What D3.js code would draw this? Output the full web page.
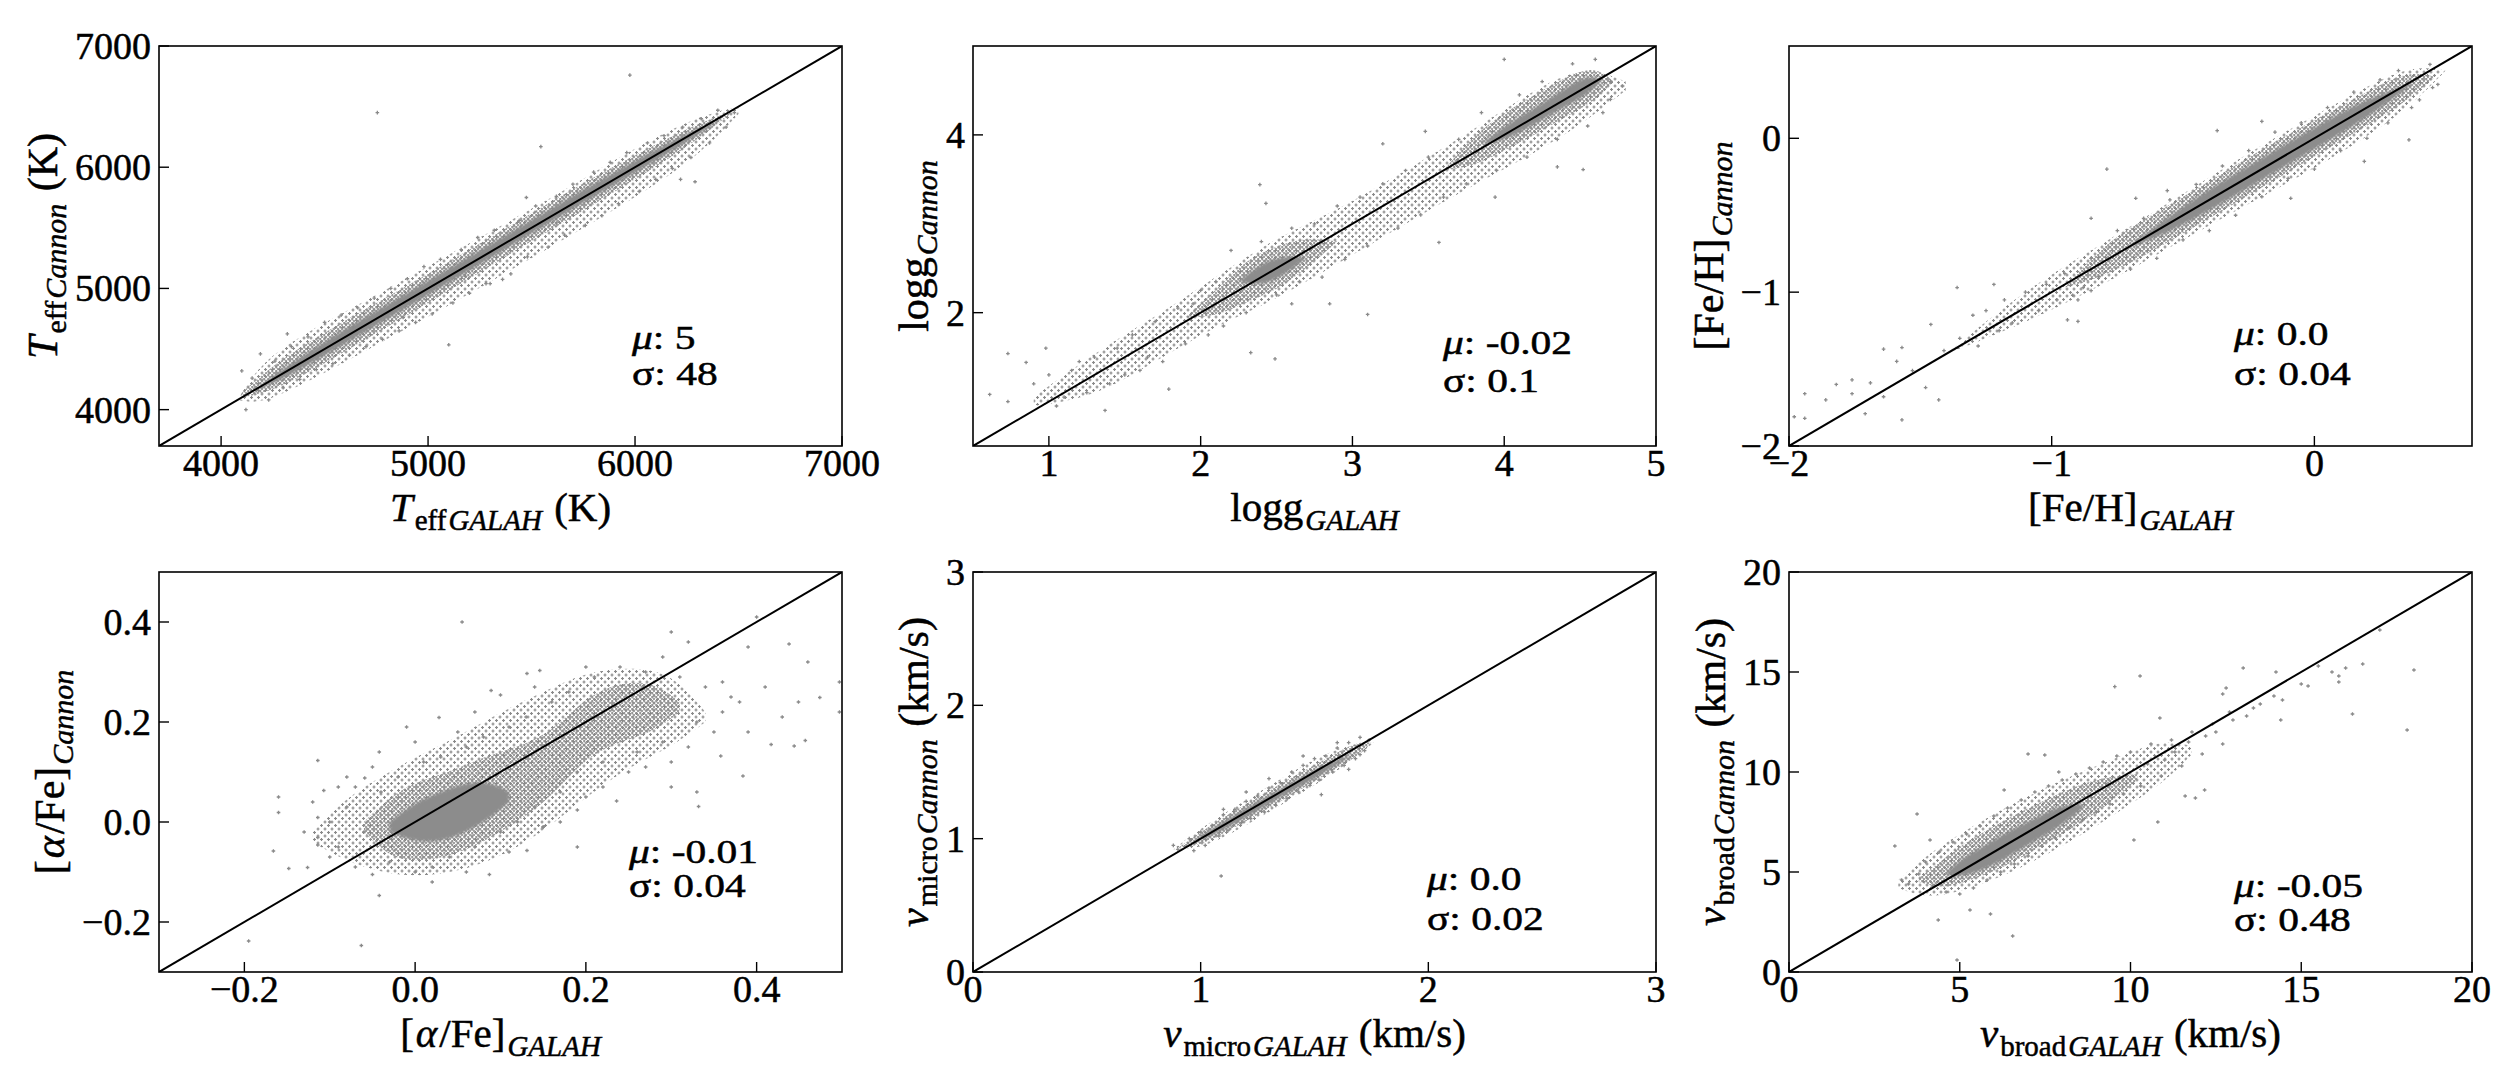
<!DOCTYPE html>
<html>
<head>
<meta charset="utf-8">
<script src="https://cdn.jsdelivr.net/npm/d3@7"></script>
<style>
  body { margin: 0; background: #fff; }
  text { font-family: "Liberation Serif", "Times New Roman", serif; fill: #000; stroke: #000; stroke-width: 0.5px; white-space: pre; }
</style>
</head>
<body>
<div id="chart"></div>
<script>
// ---------- data ----------
// each cloud: halo (sparse dots), band (crowded dots), core (saturated), pts (single stars)

// Teff (K)
var teffTicks = [4000, 5000, 6000, 7000];
var teffHaloX  = [4080, 4200, 4500, 4800, 5100, 5400, 5700, 6000, 6300, 6500];
var teffHaloLo = [4080, 4040, 4300, 4580, 4860, 5150, 5450, 5750, 6080, 6440];
var teffHaloHi = [4080, 4420, 4720, 4990, 5280, 5560, 5850, 6160, 6420, 6500];
var teffBandX  = [4100, 4250, 4500, 4750, 5000, 5250, 5500, 5750, 6000, 6250, 6460];
var teffBandLo = [4100, 4150, 4380, 4630, 4880, 5130, 5390, 5640, 5900, 6160, 6440];
var teffBandHi = [4140, 4370, 4640, 4880, 5120, 5370, 5620, 5870, 6100, 6320, 6460];
var teffCoreX  = [4150, 4300, 4500, 4750, 5000, 5250, 5500, 5750, 6000, 6250, 6420];
var teffCoreLo = [4150, 4250, 4445, 4695, 4945, 5195, 5455, 5705, 5955, 6205, 6400];
var teffCoreHi = [4150, 4340, 4565, 4815, 5065, 5315, 5565, 5815, 6055, 6285, 6400];
var teffPts = [[5975,6760],[4755,6450],[5545,6170],[5100,4535],[6220,5900],[6290,5880],[4320,4625],[5475,5750],[5360,5075],[5300,5040],
  [4100,4320],[4190,4460],[4120,4000],[4150,4260],[4230,4080],[4260,4400],[4300,4180],[4340,4520],[4380,4250],[4420,4600],
  [4460,4330],[4500,4720],[4540,4380],[4580,4780],[4620,4450],[4660,4840],[4700,4520],[4740,4920],[4780,4580],[4820,5000],
  [4860,4650],[4900,5080],[4940,4720],[4980,5180],[5020,4790],[5060,5240],[5120,4880],[5160,5320],[5200,4960],[5240,5420],
  [5280,5040],[5320,5480],[5400,5120],[5440,5560],[5480,5260],[5520,5680],[5580,5340],[5620,5760],[5660,5440],[5700,5860],
  [5760,5520],[5800,5960],[5840,5600],[5880,6040],[5920,5700],[5960,6120],[6020,5800],[6060,6200],[6100,5900],[6140,6260],
  [6180,5990],[6230,6330],[6270,6080],[6320,6400],[6360,6200],[6400,6470],[6440,6330],[6480,6450],[4640,4680],[4880,4760],
  [5180,5100],[5620,5540],[5820,5860]];

// log g
var loggTicksX = [1, 2, 3, 4, 5];
var loggTicksY = [2, 4];
var loggHaloX  = [0.9, 1.3, 1.7, 2.1, 2.5, 2.9, 3.3, 3.7, 4.1, 4.5, 4.8];
var loggHaloLo = [0.95, 1.05, 1.45, 1.85, 2.15, 2.55, 2.95, 3.35, 3.7, 4.1, 4.5];
var loggHaloHi = [1.05, 1.55, 1.95, 2.4, 2.85, 3.15, 3.55, 3.95, 4.4, 4.8, 4.6];
var loggBandX  = [1.9, 2.1, 2.3, 2.5, 2.7, 2.9, null, 3.6, 3.8, 4.0, 4.2, 4.4, 4.6, 4.72];
var loggBandLo = [1.95, 1.95, 2.12, 2.25, 2.5, 2.8, null, 3.6, 3.65, 3.82, 4.0, 4.2, 4.38, 4.6];
var loggBandHi = [1.95, 2.25, 2.6, 2.75, 2.85, 2.8, null, 3.6, 4.0, 4.25, 4.45, 4.65, 4.78, 4.6];
var loggCoreX  = [2.25, 2.4, 2.55, 2.7, null, 3.85, 4.0, 4.2, 4.4, 4.55, 4.65];
var loggCoreLo = [2.35, 2.3, 2.42, 2.62, null, 3.9, 3.93, 4.12, 4.32, 4.45, 4.62];
var loggCoreHi = [2.35, 2.56, 2.64, 2.62, null, 3.9, 4.1, 4.3, 4.52, 4.68, 4.62];
var loggPts = [[4.0,4.85],[2.39,3.44],[2.43,3.23],[3.2,3.9],[3.57,2.79],[3.1,1.98],[2.49,1.48],[4.52,3.61],[4.35,3.64],[3.94,3.3],
  [0.61,1.08],[0.73,1.54],[0.73,1.0],[0.85,1.44],[0.98,1.6],[1.37,0.9],[4.78,4.55],[4.7,4.4],[1.79,1.14],[2.33,1.55],
  [2.85,2.1],[3.48,4.04],[0.9,1.2],[1.0,1.3],[1.1,1.05],[1.15,1.35],[1.25,1.1],[1.3,1.5],[1.4,1.2],[1.45,1.6],
  [1.5,1.3],[1.55,1.75],[1.65,1.5],[1.7,1.9],[1.75,1.45],[1.85,2.05],[1.9,1.65],[2.0,2.25],[2.05,1.75],[2.1,2.35],
  [2.15,1.85],[2.2,2.7],[2.3,2.0],[2.6,2.95],[2.6,2.1],[2.75,3.0],[2.8,2.4],[2.9,3.2],[2.95,2.6],[3.05,3.3],
  [3.1,2.75],[3.2,3.45],[3.3,2.95],[3.35,3.6],[3.45,3.1],[3.5,3.75],[3.6,3.3],[3.7,3.95],[3.75,3.45],[3.85,4.25],
  [3.95,3.6],[4.1,4.45],[4.15,3.75],[4.25,4.6],[4.35,3.95],[4.45,4.8],[4.55,4.1],[4.6,4.85],[4.65,4.25],[4.7,4.6],
  [1.05,0.95],[1.2,1.45],[1.6,1.35],[1.95,2.1],[2.4,2.8],[2.5,2.2],[2.65,2.35]];

// [Fe/H]
var fehTicks = [-2, -1, 0];
var fehHaloX  = [-1.4, -1.1, -0.8, -0.5, -0.2, 0.1, 0.35, 0.5];
var fehHaloLo = [-1.4, -1.2, -0.95, -0.66, -0.38, -0.1, 0.18, 0.44];
var fehHaloHi = [-1.4, -0.98, -0.68, -0.36, -0.04, 0.24, 0.48, 0.44];
var fehBandX  = [-0.95, -0.8, -0.6, -0.4, -0.2, 0.0, 0.2, 0.35, 0.46];
var fehBandLo = [-0.97, -0.9, -0.72, -0.52, -0.32, -0.12, 0.08, 0.24, 0.4];
var fehBandHi = [-0.97, -0.68, -0.48, -0.28, -0.07, 0.12, 0.3, 0.44, 0.4];
var fehCoreX  = [-0.72, -0.55, -0.4, -0.2, 0.0, 0.2, 0.38];
var fehCoreLo = [-0.72, -0.61, -0.47, -0.27, -0.07, 0.13, 0.36];
var fehCoreHi = [-0.72, -0.5, -0.33, -0.13, 0.07, 0.26, 0.36];
var fehPts = [[-1.94,-1.66],[-1.98,-1.81],[-1.94,-1.82],[-1.86,-1.70],[-1.82,-1.60],[-1.76,-1.57],[-1.76,-1.66],[-1.71,-1.79],
  [-1.69,-1.59],[-1.64,-1.37],[-1.64,-1.68],[-1.59,-1.45],[-1.57,-1.36],[-1.57,-1.83],[-1.53,-1.51],[-1.48,-1.62],[-1.46,-1.21],
  [-1.43,-1.70],[-1.41,-1.38],[-1.36,-0.97],[-1.35,-1.3],[-1.3,-1.15],[-1.28,-1.35],[-1.25,-1.12],[-1.2,-1.25],[-1.18,-1.05],
  [-1.15,-1.2],[-1.1,-1.0],[-1.05,-1.12],[-1.02,-0.95],[-0.98,-1.05],[-0.95,-0.88],[-0.92,-1.02],[-0.9,-0.82],[-0.88,-0.97],
  [-0.85,-0.78],[-1.22,-0.95],[-0.94,-1.18],[-0.9,-1.05],[-0.82,-0.9],[-0.79,-0.2],[-0.85,-0.52],[-0.37,0.05],[-0.2,0.11],
  [0.36,-0.01],[0.19,-0.15],[0.47,0.35],[0.37,0.2],[-0.85,-0.99],[-0.9,-1.19],[-0.68,-0.39],[-0.56,-0.34],[-0.09,-0.39],
  [-0.75,-0.6],[-0.7,-0.85],[-0.65,-0.52],[-0.6,-0.78],[-0.55,-0.4],[-0.5,-0.66],[-0.45,-0.3],[-0.4,-0.6],[-0.35,-0.18],
  [-0.3,-0.5],[-0.25,-0.08],[-0.2,-0.38],[-0.15,0.04],[-0.1,-0.26],[-0.05,0.1],[0.0,-0.2],[0.05,0.2],[0.1,-0.08],
  [0.15,0.3],[0.2,0.0],[0.25,0.38],[0.28,0.1],[0.32,0.44],[0.4,0.25],[0.44,0.48],[0.45,0.33]];

// [alpha/Fe]
var alphaTicks = [-0.2, 0.0, 0.2, 0.4];
var alphaHaloX  = [-0.12, -0.08, -0.04, 0.0, 0.05, 0.1, 0.15, 0.2, 0.25, 0.3, 0.34];
var alphaHaloLo = [-0.04, -0.08, -0.1, -0.11, -0.1, -0.07, -0.02, 0.05, 0.11, 0.15, 0.2];
var alphaHaloHi = [-0.02, 0.05, 0.09, 0.13, 0.17, 0.22, 0.26, 0.3, 0.31, 0.3, 0.22];
var alphaBandX  = [-0.06, -0.03, 0.0, 0.04, 0.08, 0.12, 0.16, 0.2, 0.24, 0.28, 0.31];
var alphaBandLo = [-0.02, -0.07, -0.08, -0.07, -0.04, 0.0, 0.05, 0.13, 0.16, 0.18, 0.22];
var alphaBandHi = [0.0, 0.05, 0.08, 0.1, 0.13, 0.15, 0.18, 0.25, 0.28, 0.28, 0.24];
var alphaCoreX  = [-0.03, 0.0, 0.03, 0.06, 0.09, 0.11];
var alphaCoreLo = [-0.02, -0.04, -0.04, -0.02, 0.01, 0.04];
var alphaCoreHi = [0.0, 0.04, 0.06, 0.08, 0.08, 0.06];
var alphaPts = [[0.055,0.40],[0.30,0.38],[0.32,0.36],[0.40,0.41],[0.438,0.356],[0.39,0.35],[0.46,0.32],[0.497,0.28],[0.474,0.249],
  [0.497,0.22],[0.449,0.24],[0.457,0.163],[0.444,0.152],[0.417,0.155],[0.39,0.18],[0.358,0.132],[0.384,0.092],[0.30,0.07],
  [0.33,0.06],[0.332,0.031],[0.236,0.042],[0.15,-0.01],[0.19,-0.05],[0.131,-0.057],[0.087,-0.105],[0.10,0.254],[0.131,0.297],
  [0.146,0.303],[0.089,0.263],[-0.01,0.19],[0.028,0.209],[-0.042,0.14],[-0.114,0.123],[-0.08,0.09],[-0.059,0.088],[-0.107,0.063],
  [-0.16,0.05],[-0.16,0.019],[-0.114,0.009],[-0.114,-0.031],[-0.114,-0.046],[-0.166,-0.058],[-0.148,-0.093],[-0.126,-0.091],
  [-0.05,-0.105],[-0.042,-0.147],[-0.195,-0.238],[-0.063,-0.247],[0.19,0.024],
  [-0.06,-0.02],[-0.04,0.06],[-0.03,-0.08],[-0.02,0.09],[0.0,-0.1],[0.01,0.12],[0.02,-0.09],[0.03,0.13],[0.04,-0.07],
  [0.06,0.15],[0.07,-0.05],[0.08,0.17],[0.1,-0.02],[0.11,0.19],[0.12,0.0],[0.13,0.21],[0.14,0.03],[0.16,0.24],[0.17,0.06],
  [0.18,0.26],[0.19,0.1],[0.21,0.29],[0.22,0.12],[0.24,0.31],[0.26,0.14],[0.27,0.3],[0.29,0.16],[0.31,0.29],[0.33,0.2],
  [0.34,0.27],[0.36,0.22],[0.37,0.25],[-0.08,0.03],[-0.09,-0.05],[-0.07,0.07],[0.05,0.18],[0.15,-0.01],[0.2,0.05],[0.25,0.1],[0.3,0.12],
  [-0.1,0.0],[-0.12,0.04],[-0.13,-0.02],[-0.1,-0.07],[-0.07,-0.09],[0.02,-0.12],[0.06,-0.1],[0.11,-0.06],[0.17,0.0],[0.22,0.07],
  [0.27,0.11],[0.32,0.15],[0.35,0.18],[0.38,0.24],[0.36,0.28],[0.29,0.33],[0.2,0.31],[0.14,0.27],[0.07,0.22],[0.0,0.16],
  [-0.05,0.11],[-0.09,0.07],[0.41,0.27],[0.43,0.21]];

// v_micro (km/s)
var vmicTicks = [0, 1, 2, 3];
var vmicHaloX  = [0.88, 1.0, 1.2, 1.4, 1.6, 1.76];
var vmicHaloLo = [0.92, 0.92, 1.1, 1.3, 1.5, 1.72];
var vmicHaloHi = [0.92, 1.08, 1.29, 1.5, 1.69, 1.72];
var vmicBandX  = [0.9, 1.0, 1.1, 1.2, 1.3, 1.4, 1.5, 1.6, 1.7, 1.75];
var vmicBandLo = [0.93, 0.95, 1.04, 1.13, 1.23, 1.33, 1.43, 1.53, 1.63, 1.72];
var vmicBandHi = [0.93, 1.05, 1.16, 1.26, 1.36, 1.46, 1.55, 1.65, 1.73, 1.72];
var vmicCoreX  = [0.95, 1.05, 1.15, 1.25, 1.35, 1.45, 1.55, 1.68];
var vmicCoreLo = [0.96, 1.02, 1.11, 1.21, 1.31, 1.4, 1.5, 1.64];
var vmicCoreHi = [0.96, 1.08, 1.18, 1.28, 1.37, 1.47, 1.56, 1.64];
var vmicPts = [[1.09,0.72],[1.53,1.33],[0.88,0.95],[0.9,0.92],[0.95,1.0],[0.97,0.91],[1.0,1.05],[1.02,0.95],[1.05,1.1],
  [1.08,1.02],[1.1,1.18],[1.12,1.06],[1.15,1.22],[1.18,1.12],[1.2,1.28],[1.22,1.15],[1.25,1.32],[1.28,1.2],[1.3,1.38],
  [1.33,1.25],[1.35,1.42],[1.38,1.3],[1.4,1.5],[1.43,1.35],[1.45,1.55],[1.48,1.4],[1.5,1.6],[1.52,1.44],[1.55,1.62],
  [1.58,1.5],[1.6,1.68],[1.63,1.55],[1.65,1.72],[1.68,1.6],[1.7,1.76],[1.72,1.66],[1.74,1.74],[1.2,1.35],[1.3,1.45],
  [1.1,1.22],[1.45,1.62],[1.6,1.72],[1.65,1.52],[1.7,1.63]];

// v_broad (km/s)
var vbrTicks = [0, 5, 10, 15, 20];
var vbrHaloX  = [3.2, 4, 5, 6, 7, 8, 9, 10, 11, 11.8];
var vbrHaloLo = [4.2, 3.7, 4.0, 4.6, 5.4, 6.3, 7.3, 8.4, 9.5, 10.9];
var vbrHaloHi = [4.6, 5.8, 6.9, 7.9, 8.8, 9.6, 10.3, 11.0, 11.6, 11.3];
var vbrBandX  = [3.8, 4.5, 5, 6, 7, 8, 9, 10.2];
var vbrBandLo = [4.5, 4.2, 4.4, 5.0, 5.9, 6.9, 7.9, 9.6];
var vbrBandHi = [4.7, 5.6, 6.3, 7.3, 8.2, 9.0, 9.7, 9.9];
var vbrCoreX  = [4.6, 5, 5.5, 6, 6.5, 7, 7.5, 8, 8.6];
var vbrCoreLo = [4.85, 4.75, 5.0, 5.35, 5.85, 6.35, 6.85, 7.35, 8.2];
var vbrCoreHi = [4.95, 5.6, 6.1, 6.6, 7.1, 7.5, 7.95, 8.35, 8.4];
var vbrPts = [[6.55,1.8],[4.92,0.6],[5.9,2.9],[4.37,2.6],[5.3,3.1],[3.75,7.9],[3.1,6.3],[4.13,6.6],[9.54,14.27],[10.28,14.8],
  [13.3,15.2],[14.26,15.0],[15.5,15.3],[15.9,15.0],[16.3,15.2],[16.8,15.4],[17.3,17.1],[18.3,15.1],[18.1,12.1],[16.5,12.9],
  [16.1,14.5],[14.4,12.6],[14.45,13.6],[14.2,13.8],[15.0,14.4],[15.2,14.3],[16.1,14.8],[13.6,13.2],[12.8,14.2],[12.7,13.9],
  [10.86,12.7],[12.17,9.1],[11.9,8.7],[11.6,8.8],[10.8,7.5],[10.1,6.6],[7.49,10.85],[7.0,10.9],[7.9,10.0],[6.3,9.1],
  [4.0,5.5],[4.2,4.3],[4.4,6.0],[4.6,4.0],[4.8,6.5],[5.0,3.9],[5.2,6.9],[5.4,4.2],[5.6,7.3],[5.8,4.6],[6.0,7.8],[6.2,5.0],
  [6.4,8.2],[6.6,5.4],[6.8,8.6],[7.0,5.8],[7.2,9.0],[7.4,6.3],[7.6,9.3],[7.8,6.7],[8.0,9.6],[8.2,7.2],[8.4,9.9],[8.6,7.6],
  [8.8,10.2],[9.0,8.0],[9.2,10.5],[9.4,8.4],[9.6,10.8],[9.8,8.9],[10.0,11.0],[10.3,9.3],[10.6,11.4],[10.9,9.8],[11.2,11.6],
  [11.5,10.3],[11.8,12.0],[12.1,10.9],[12.4,12.4],[12.7,11.4],[3.5,4.4],[3.3,4.6],[3.8,4.9],
  [11.3,11.0],[11.7,11.5],[12.2,11.8],[12.5,12.0],[13.0,12.6],[12.9,13.0],[13.4,12.8],[11.0,10.6],[10.5,10.4],[13.8,13.4]];

// mean offset and scatter printed in each panel
var statMu    = ['5', '-0.02', '0.0', '-0.01', '0.0', '-0.05'];
var statSigma = ['48', '0.1', '0.04', '0.04', '0.02', '0.48'];

// ---------- layout ----------
var W = 683, H = 400;
var colX = [159, 973, 1789];
var rowY = [46, 572];
var gray = '#8a8a8a';

var fmtInt = d3.format('d');
var fmt1 = d3.format('.1f');

var panels = [
  { col: 0, row: 0, dom: [3700, 7000], tx: teffTicks, ty: teffTicks, fmt: fmtInt,
    halo: [teffHaloX, teffHaloLo, teffHaloHi], band: [teffBandX, teffBandLo, teffBandHi],
    core: [teffCoreX, teffCoreLo, teffCoreHi], pts: teffPts,
    xl: [['T','i'],['eff','s'],['GALAH','si'],[' (K)','']],
    yl: [['T','i'],['eff','s'],['Cannon','si'],[' (K)','']], ann: [632, 349, 385] },
  { col: 1, row: 0, dom: [0.5, 5], tx: loggTicksX, ty: loggTicksY, fmt: fmtInt,
    halo: [loggHaloX, loggHaloLo, loggHaloHi], band: [loggBandX, loggBandLo, loggBandHi],
    core: [loggCoreX, loggCoreLo, loggCoreHi], pts: loggPts,
    xl: [['logg',''],['GALAH','si']], yl: [['logg',''],['Cannon','si']], ann: [1443, 354, 392] },
  { col: 2, row: 0, dom: [-2, 0.6], tx: fehTicks, ty: fehTicks, fmt: fmtInt,
    halo: [fehHaloX, fehHaloLo, fehHaloHi], band: [fehBandX, fehBandLo, fehBandHi],
    core: [fehCoreX, fehCoreLo, fehCoreHi], pts: fehPts,
    xl: [['[Fe/H]',''],['GALAH','si']], yl: [['[Fe/H]',''],['Cannon','si']], ann: [2234, 345, 385] },
  { col: 0, row: 1, dom: [-0.3, 0.5], tx: alphaTicks, ty: alphaTicks, fmt: fmt1,
    halo: [alphaHaloX, alphaHaloLo, alphaHaloHi], band: [alphaBandX, alphaBandLo, alphaBandHi],
    core: [alphaCoreX, alphaCoreLo, alphaCoreHi], pts: alphaPts,
    xl: [['[',''],['α','i'],['/Fe]',''],['GALAH','si']], yl: [['[',''],['α','i'],['/Fe]',''],['Cannon','si']], ann: [629, 863, 897] },
  { col: 1, row: 1, dom: [0, 3], tx: vmicTicks, ty: vmicTicks, fmt: fmtInt,
    halo: [vmicHaloX, vmicHaloLo, vmicHaloHi], band: [vmicBandX, vmicBandLo, vmicBandHi],
    core: [vmicCoreX, vmicCoreLo, vmicCoreHi], pts: vmicPts,
    xl: [['v','i'],['micro','s'],['GALAH','si'],[' (km/s)','']],
    yl: [['v','i'],['micro','s'],['Cannon','si'],[' (km/s)','']], ann: [1427, 890, 930] },
  { col: 2, row: 1, dom: [0, 20], tx: vbrTicks, ty: vbrTicks, fmt: fmtInt,
    halo: [vbrHaloX, vbrHaloLo, vbrHaloHi], band: [vbrBandX, vbrBandLo, vbrBandHi],
    core: [vbrCoreX, vbrCoreLo, vbrCoreHi], pts: vbrPts,
    xl: [['v','i'],['broad','s'],['GALAH','si'],[' (km/s)','']],
    yl: [['v','i'],['broad','s'],['Cannon','si'],[' (km/s)','']], ann: [2234, 897, 931] }
];

var svg = d3.select('#chart').append('svg')
  .attr('width', 2520).attr('height', 1080)
  .style('background', '#fff');

// dotted fills that stand in for crowded markers
var defs = svg.append('defs');
function speckle(id, size, d) {
  defs.append('pattern').attr('id', id)
    .attr('width', size).attr('height', size).attr('patternUnits', 'userSpaceOnUse')
    .append('path').attr('d', d).attr('stroke', gray).attr('stroke-width', 1.2);
}
speckle('sparse', 7, 'M0,1.5H3M1.5,0V3M3.5,5H6.5M5,3.5V6.5');
speckle('dense', 4, 'M0,1H2.5M1.2,0V2.5M2,3H4M3,2V4');
defs.append('filter').attr('id', 'soft').append('feGaussianBlur').attr('stdDeviation', 1.6);

// label with sub-scripts: style flags i = italic, s = subscript
function rich(sel, segs, base, sub) {
  var inSub = false;
  segs.forEach(function (s, k) {
    var isSub = s[1].indexOf('s') > -1;
    var ts = sel.append('tspan').text(s[0])
      .style('font-style', s[1].indexOf('i') > -1 ? 'italic' : 'normal')
      .style('font-size', (isSub ? sub : base) + 'px');
    if (k > 0) ts.attr('dx', 2);
    if (isSub !== inSub) ts.attr('dy', isSub ? 9 : -9);
    inSub = isSub;
  });
}

var plus = 'M-1.8,0H1.8M0,-1.8V1.8';

panels.forEach(function (p, i) {
  var g = svg.append('g').attr('transform', 'translate(' + colX[p.col] + ',' + rowY[p.row] + ')');
  var x = d3.scaleLinear().domain(p.dom).range([0, W]);
  var y = d3.scaleLinear().domain(p.dom).range([H, 0]);

  var clipId = 'clip' + i;
  defs.append('clipPath').attr('id', clipId).append('rect').attr('width', W).attr('height', H);
  var plot = g.append('g').attr('clip-path', 'url(#' + clipId + ')');

  var area = d3.area()
    .defined(function (d) { return d[0] != null; })
    .x(function (d) { return x(d[0]); })
    .y0(function (d) { return y(d[1]); })
    .y1(function (d) { return y(d[2]); })
    .curve(d3.curveBasis);

  plot.append('path').datum(d3.zip(p.halo[0], p.halo[1], p.halo[2]))
    .attr('d', area).attr('fill', 'url(#sparse)');
  plot.append('path').datum(d3.zip(p.band[0], p.band[1], p.band[2]))
    .attr('d', area).attr('fill', 'url(#dense)');
  plot.append('path').datum(d3.zip(p.core[0], p.core[1], p.core[2]))
    .attr('d', area).attr('fill', '#8c8c8c').attr('filter', 'url(#soft)');

  plot.selectAll('path.pt').data(p.pts).enter().append('path')
    .attr('class', 'pt')
    .attr('transform', function (d) { return 'translate(' + x(d[0]) + ',' + y(d[1]) + ')'; })
    .attr('d', plus).attr('stroke', gray).attr('stroke-width', 1.3);

  // one-to-one line
  plot.append('line')
    .attr('x1', x(p.dom[0])).attr('y1', y(p.dom[0]))
    .attr('x2', x(p.dom[1])).attr('y2', y(p.dom[1]))
    .attr('stroke', '#000').attr('stroke-width', 2);

  g.append('rect').attr('width', W).attr('height', H)
    .attr('fill', 'none').attr('stroke', '#000').attr('stroke-width', 1.6);

  // ticks point inwards
  g.selectAll('line.xt').data(p.tx).enter().append('line')
    .attr('x1', x).attr('x2', x).attr('y1', H).attr('y2', H - 10)
    .attr('stroke', '#000').attr('stroke-width', 1.4);
  g.selectAll('line.yt').data(p.ty).enter().append('line')
    .attr('y1', y).attr('y2', y).attr('x1', 0).attr('x2', 10)
    .attr('stroke', '#000').attr('stroke-width', 1.4);

  g.selectAll('text.xtl').data(p.tx).enter().append('text')
    .attr('class', 'xtl').attr('x', x).attr('y', H + 30)
    .attr('text-anchor', 'middle').style('font-size', '38px')
    .text(p.fmt);
  var ytl = g.selectAll('text.ytl').data(p.ty).enter().append('text')
    .attr('class', 'ytl').attr('x', -8).attr('y', function (d) { return y(d) + 13; })
    .attr('text-anchor', 'end').style('font-size', '38px')
    .text(p.fmt);

  var widest = 0;
  ytl.each(function () { widest = Math.max(widest, this.getComputedTextLength()); });

  rich(g.append('text').attr('x', W / 2).attr('y', H + 75).attr('text-anchor', 'middle'), p.xl, 41, 29);
  rich(g.append('text')
    .attr('transform', 'translate(' + (-8 - widest - 18) + ',' + (H / 2) + ') rotate(-90)')
    .attr('text-anchor', 'middle'), p.yl, 42, 30);

  // statistics box
  var a1 = svg.append('text').attr('transform', 'translate(' + p.ann[0] + ',' + p.ann[1] + ') scale(1.22,1)')
    .style('font-size', '34px');
  a1.append('tspan').style('font-style', 'italic').text('μ');
  a1.append('tspan').text(': ' + statMu[i]);
  svg.append('text').attr('transform', 'translate(' + p.ann[0] + ',' + p.ann[2] + ') scale(1.22,1)')
    .style('font-size', '34px').text('σ: ' + statSigma[i]);
});
</script>
</body>
</html>
